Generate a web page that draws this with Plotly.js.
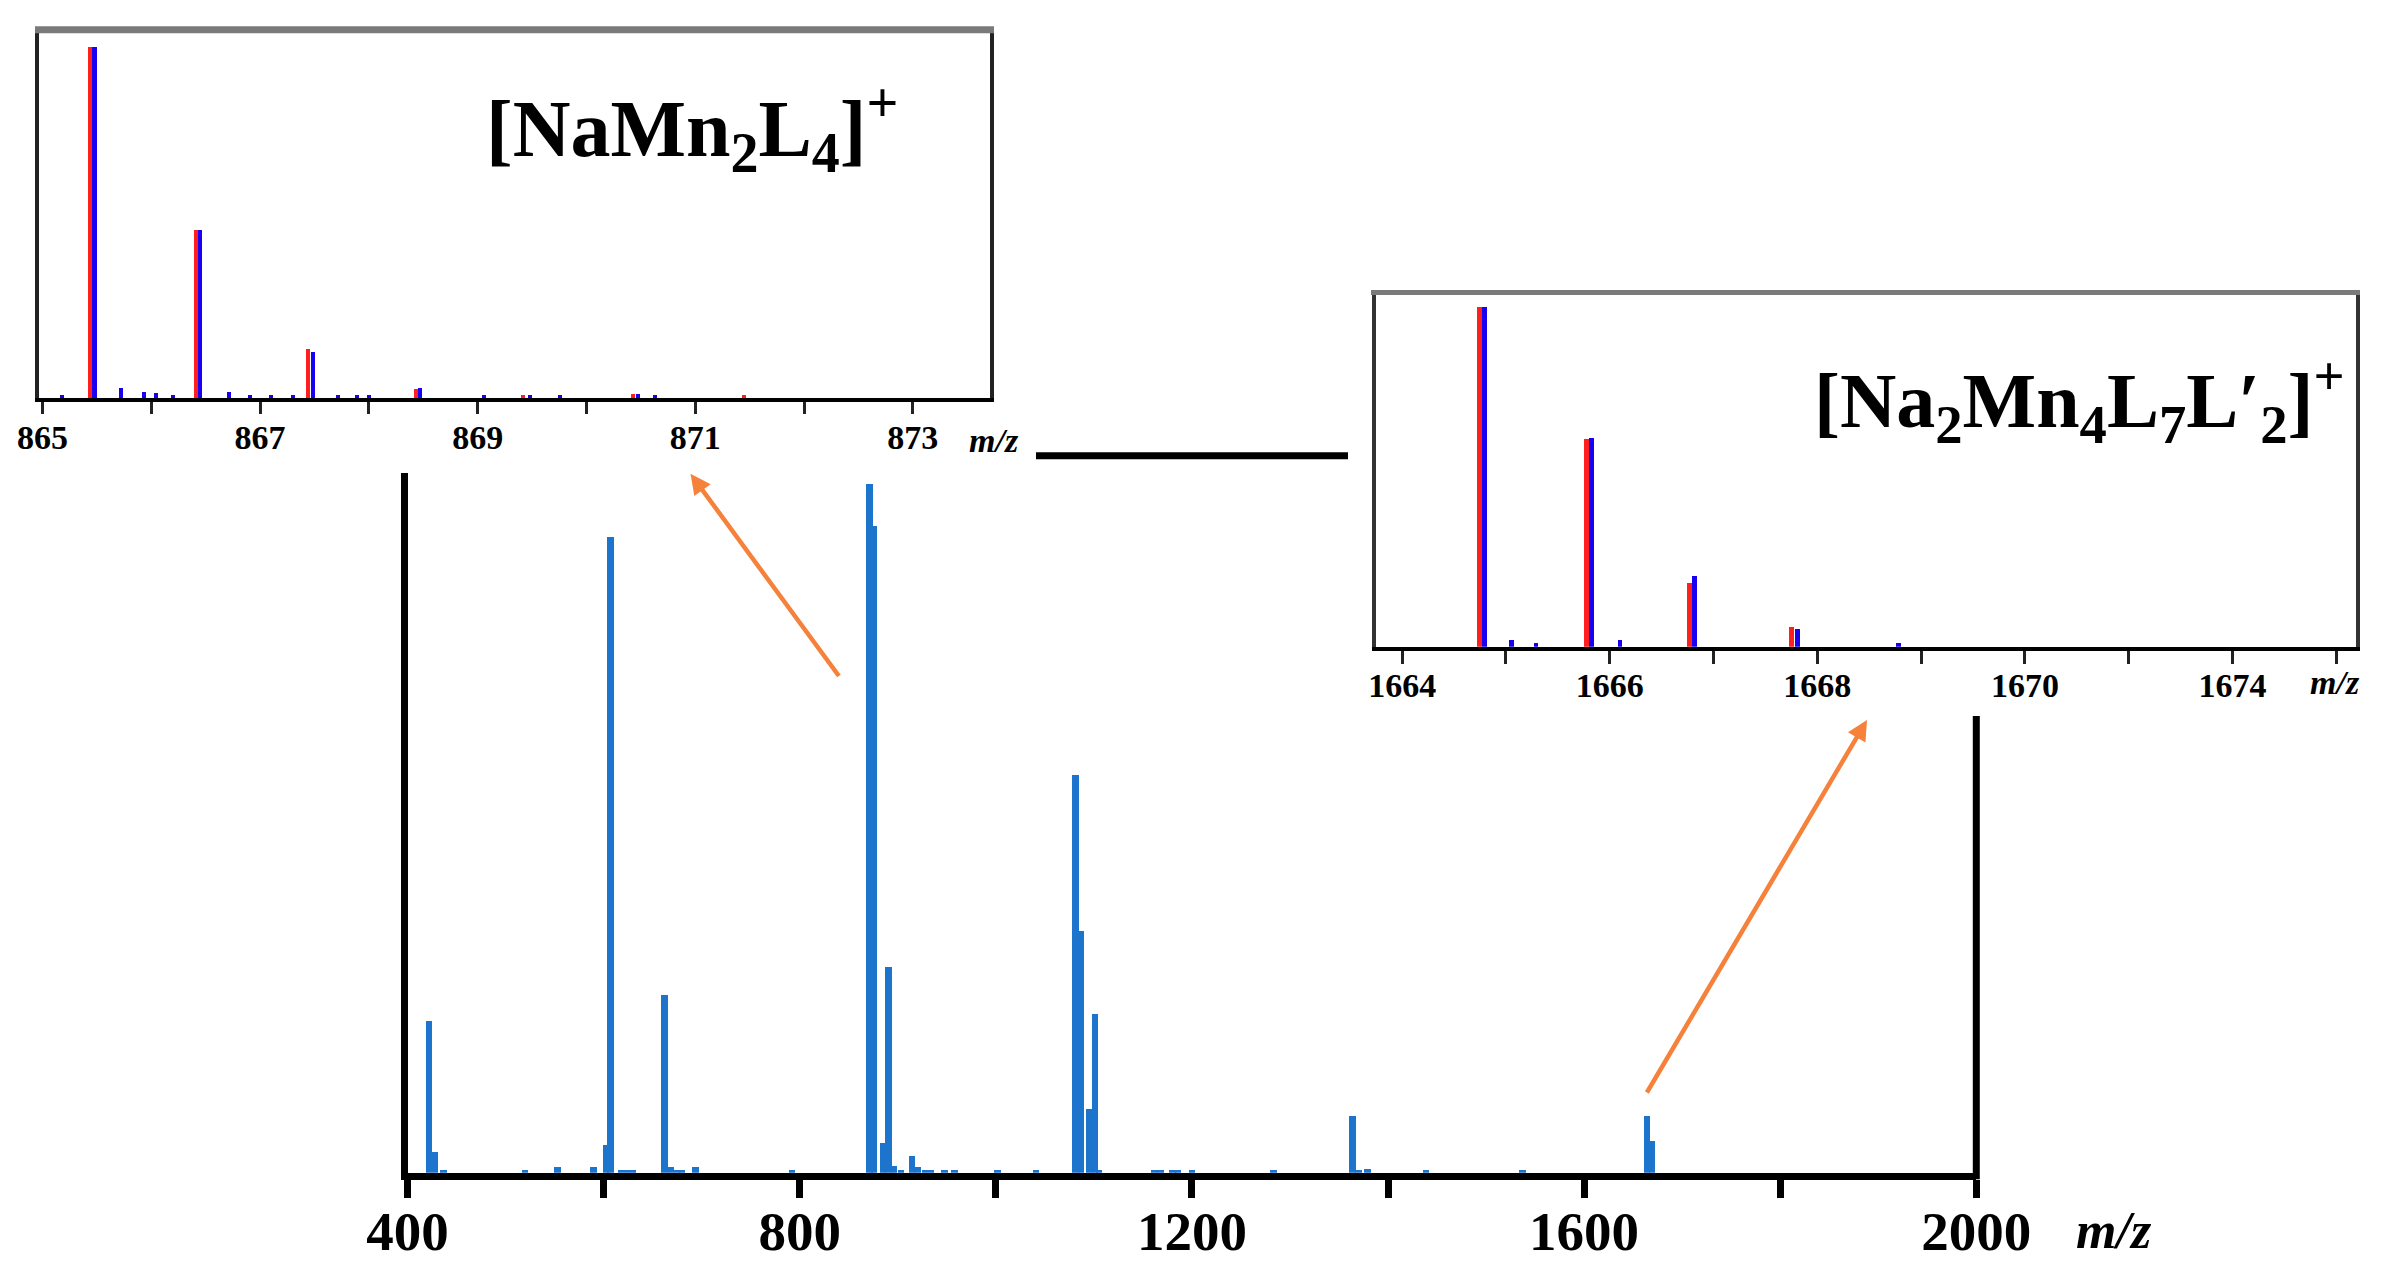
<!DOCTYPE html>
<html>
<head>
<meta charset="utf-8">
<script src="https://cdn.plot.ly/plotly-3.0.1.min.js"></script>
<style>html,body{margin:0;padding:0;background:#fff;}#chart{width:2395px;height:1288px;}</style>
</head>
<body>
<div id="chart"></div>
<script>
// ---- Main spectrum (m/z, relative intensity %) ----
var mainMz = [422, 428, 436.5, 520, 553, 589.5, 602.5, 607, 618, 624, 630, 662, 669, 675, 680, 693.5, 792,
  871, 876, 885, 890.5, 896, 903.5, 914.5, 920, 928, 934, 947.5, 958, 1001.7, 1041,
  1081.5, 1087, 1095.5, 1101, 1105.5, 1162, 1168, 1180, 1186, 1200, 1283, 1364, 1370, 1379, 1439, 1537, 1664.4, 1669.5];
var mainInt = [21.7, 2.9, 0.4, 0.4, 0.86, 0.86, 4.0, 90.9, 0.4, 0.4, 0.4, 25.4, 0.86, 0.4, 0.4, 0.86, 0.4,
  98.4, 92.4, 4.2, 29.4, 0.9, 0.4, 2.4, 0.86, 0.4, 0.4, 0.4, 0.4, 0.4, 0.4,
  56.8, 34.5, 9.1, 22.7, 0.4, 0.4, 0.4, 0.4, 0.4, 0.4, 0.4, 8.1, 0.4, 0.5, 0.4, 0.4, 8.1, 4.5];
var mainTickVals = [400, 800, 1200, 1600, 2000];
var mainTickText = ['400', '800', '1200', '1600', '2000'];

// ---- Inset 1: [NaMn2L4]+ (red = simulated, blue = experimental) ----
var in1RedMz = [865.439, 866.408, 867.436, 868.43, 869.42, 870.43, 871.45];
var in1RedInt = [100, 48.0, 13.9, 2.6, 0.9, 1.1, 0.9];
var in1BlueMz = [865.478, 866.45, 867.483, 868.47, 865.18, 865.72, 865.93, 866.04, 866.20, 866.71, 866.91,
  867.10, 867.30, 867.72, 867.89, 868.00, 869.06, 869.48, 869.76, 870.47, 870.63];
var in1BlueInt = [100, 48.0, 13.1, 2.8, 0.8, 2.8, 1.9, 1.6, 0.9, 1.9, 0.9,
  0.8, 0.8, 0.8, 0.8, 0.9, 0.9, 0.9, 0.9, 1.1, 0.9];
var in1TickVals = [865, 867, 869, 871, 873];
var in1TickText = ['865', '867', '869', '871', '873'];

// ---- Inset 2: [Na2Mn4L7L'2]+ ----
var in2RedMz = [1664.742, 1665.774, 1666.766, 1667.752];
var in2RedInt = [100, 61.1, 18.8, 5.9];
var in2BlueMz = [1664.79, 1665.826, 1666.818, 1667.81, 1665.055, 1665.289, 1666.098, 1668.78];
var in2BlueInt = [100, 61.4, 20.7, 5.1, 2.0, 1.0, 2.0, 1.0];
var in2TickVals = [1664, 1666, 1668, 1670, 1672];
var in2TickText = ['1664', '1666', '1668', '1670', '1674'];

var W = 2395, H = 1288;
function px(x) { return x / W; }
function py(y) { return 1 - y / H; }
var serif = 'Liberation Serif, Times New Roman, serif';

var traces = [
  {type: 'bar', x: mainMz, y: mainInt, width: 6.6, marker: {color: '#1c74cc', line: {width: 0}}, xaxis: 'x', yaxis: 'y'},
  {type: 'bar', x: in1RedMz, y: in1RedInt, width: 0.037, marker: {color: '#ff1f1f', line: {width: 0}}, xaxis: 'x2', yaxis: 'y2'},
  {type: 'bar', x: in1BlueMz, y: in1BlueInt, width: 0.037, marker: {color: '#1a00f0', line: {width: 0}}, xaxis: 'x2', yaxis: 'y2'},
  {type: 'bar', x: in2RedMz, y: in2RedInt, width: 0.045, marker: {color: '#ff1f1f', line: {width: 0}}, xaxis: 'x3', yaxis: 'y3'},
  {type: 'bar', x: in2BlueMz, y: in2BlueInt, width: 0.045, marker: {color: '#1a00f0', line: {width: 0}}, xaxis: 'x3', yaxis: 'y3'}
];

var layout = {
  width: W, height: H,
  margin: {l: 0, r: 0, t: 0, b: 0},
  paper_bgcolor: 'white',
  plot_bgcolor: 'rgba(0,0,0,0)',
  showlegend: false,
  barmode: 'overlay',
  bargap: 0,
  xaxis: {
    domain: [px(407.5), px(1976.3)], range: [400, 2000], anchor: 'y',
    showline: true, linewidth: 7, linecolor: 'black',
    ticks: 'outside', ticklen: 18, tickwidth: 7, tickcolor: 'black',
    tickvals: mainTickVals, ticktext: mainTickText, ticklabelstandoff: -14,
    minor: {dtick: 200, tick0: 400, ticks: 'outside', ticklen: 18, tickwidth: 7, tickcolor: 'black', showgrid: false},
    tickfont: {family: serif, size: 55, color: 'black', weight: 'bold'},
    showgrid: false, zeroline: false
  },
  yaxis: {
    domain: [py(1172.7), py(473)], range: [0, 100], anchor: 'x',
    showline: true, linewidth: 7, linecolor: 'black',
    showticklabels: false, ticks: '', showgrid: false, zeroline: false
  },
  xaxis2: {
    domain: [px(39), px(990)], range: [864.968, 873.709], anchor: 'y2',
    showline: true, linewidth: 4, linecolor: 'black',
    ticks: 'outside', ticklen: 12, tickwidth: 3, tickcolor: '#222',
    tickvals: in1TickVals, ticktext: in1TickText, ticklabelstandoff: -6,
    minor: {dtick: 1, tick0: 865, ticks: 'outside', ticklen: 12, tickwidth: 3, tickcolor: '#222', showgrid: false},
    tickfont: {family: serif, size: 34, color: 'black', weight: 'bold'},
    showgrid: false, zeroline: false
  },
  yaxis2: {
    domain: [py(398.3), py(33)], range: [0, 103.9], anchor: 'x2',
    showline: true, linewidth: 4, linecolor: '#222', mirror: true,
    showticklabels: false, ticks: '', showgrid: false, zeroline: false
  },
  xaxis3: {
    domain: [px(1376), px(2356)], range: [1663.748, 1673.189], anchor: 'y3',
    showline: true, linewidth: 4, linecolor: 'black',
    ticks: 'outside', ticklen: 13, tickwidth: 3, tickcolor: '#222',
    tickvals: in2TickVals, ticktext: in2TickText, ticklabelstandoff: -8,
    minor: {dtick: 1, tick0: 1664, ticks: 'outside', ticklen: 13, tickwidth: 3, tickcolor: '#222', showgrid: false},
    tickfont: {family: serif, size: 34, color: 'black', weight: 'bold'},
    showgrid: false, zeroline: false
  },
  yaxis3: {
    domain: [py(646.7), py(295)], range: [0, 103.44], anchor: 'x3',
    showline: true, linewidth: 4, linecolor: '#333', mirror: true,
    showticklabels: false, ticks: '', showgrid: false, zeroline: false
  },
  shapes: [
    // right frame line of main spectrum (partial)
    {type: 'line', xref: 'paper', yref: 'paper', x0: px(1976.3), x1: px(1976.3), y0: py(1179.3), y1: py(716),
      line: {color: 'black', width: 7}},
    // connector bar between insets
    {type: 'line', xref: 'paper', yref: 'paper', x0: px(1036), x1: px(1348), y0: py(455.7), y1: py(455.7),
      line: {color: 'black', width: 7}},
    // grey top borders of insets
    {type: 'line', xref: 'paper', yref: 'paper', x0: px(35), x1: px(994), y0: py(29.7), y1: py(29.7),
      line: {color: '#7a7a7a', width: 7}},
    {type: 'line', xref: 'paper', yref: 'paper', x0: px(1371), x1: px(2360), y0: py(292.5), y1: py(292.5),
      line: {color: '#7a7a7a', width: 5}}
  ],
  annotations: [
    {xref: 'paper', yref: 'paper', x: px(484), y: py(128), xanchor: 'left', yanchor: 'middle', showarrow: false,
      text: '[NaMn<sub>2</sub>L<sub>4</sub>]<sup>+</sup>', font: {family: serif, size: 80, color: 'black', weight: 'bold'}},
    {xref: 'paper', yref: 'paper', x: px(1812), y: py(400), xanchor: 'left', yanchor: 'middle', showarrow: false,
      text: '[Na<sub>2</sub>Mn<sub>4</sub>L<sub>7</sub>L\u2032<sub>2</sub>]<sup>+</sup>', font: {family: serif, size: 78, color: 'black', weight: 'bold'}},
    {xref: 'paper', yref: 'paper', x: px(2114), y: py(1230), xanchor: 'center', yanchor: 'middle', showarrow: false,
      text: '<b><i>m/z</i></b>', font: {family: serif, size: 52, color: 'black'}},
    {xref: 'paper', yref: 'paper', x: px(994), y: py(440), xanchor: 'center', yanchor: 'middle', showarrow: false,
      text: '<b><i>m/z</i></b>', font: {family: serif, size: 34, color: 'black'}},
    {xref: 'paper', yref: 'paper', x: px(2335), y: py(682), xanchor: 'center', yanchor: 'middle', showarrow: false,
      text: '<b><i>m/z</i></b>', font: {family: serif, size: 34, color: 'black'}},
    // orange arrows
    {xref: 'paper', yref: 'paper', x: px(690.5), y: py(473.8), ax: 840 - 690.5, ay: 677.5 - 473.8, text: '',
      showarrow: true, arrowhead: 2, arrowsize: 0.9, arrowwidth: 4.5, arrowcolor: '#f5813a', standoff: 0, startstandoff: 0},
    {xref: 'paper', yref: 'paper', x: px(1867), y: py(720), ax: 1646 - 1867, ay: 1094 - 720, text: '',
      showarrow: true, arrowhead: 2, arrowsize: 0.9, arrowwidth: 4.5, arrowcolor: '#f5813a', standoff: 0, startstandoff: 0}
  ]
};

Plotly.newPlot('chart', traces, layout, {staticPlot: true, displayModeBar: false});
</script>
</body>
</html>
